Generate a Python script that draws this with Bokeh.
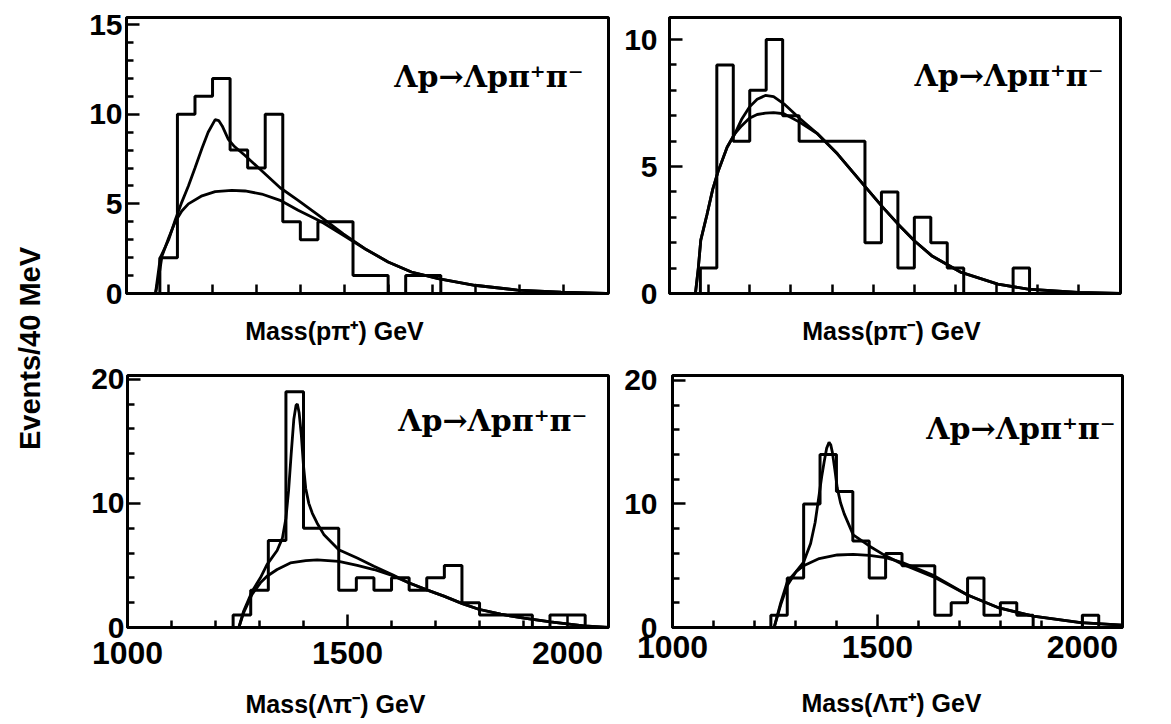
import numpy as np
from math import pi
from bokeh.plotting import figure
from bokeh.layouts import row, column
from bokeh.models import FixedTicker, Range1d, Label
from bokeh.embed import file_html
from bokeh.resources import INLINE

BIN_WIDTH = 40  # MeV per bin

# ---------------- Top-left: Mass(p pi+) ----------------
tl_start = 1080
tl_counts = [2, 10, 11, 12, 8, 7, 10, 4, 3, 4, 4, 1, 1, 0, 1, 1]
tl_fit_x = [1070, 1081, 1100, 1115, 1130, 1145, 1160, 1176, 1190, 1206, 1214, 1222, 1236, 1250,
            1274, 1312, 1354, 1395, 1448, 1498, 1547, 1600, 1653, 1714, 1797, 1895, 1994, 2096]
tl_fit_y = [0, 2.0, 3.0, 4.1, 5.1, 6.0, 7.0, 8.1, 9.0, 9.7, 9.65, 9.35, 8.6, 8.2,
            7.7, 6.85, 5.9, 5.2, 4.25, 3.33, 2.5, 1.76, 1.2, 0.83, 0.46, 0.19, 0.07, 0.0]
tl_ps_x = [1070, 1078, 1085, 1100, 1115, 1130, 1145, 1176, 1206, 1244, 1274, 1312, 1354, 1395,
           1448, 1498, 1547, 1600, 1653, 1714, 1797, 1895, 1994, 2096]
tl_ps_y = [0, 1.0, 2.1, 3.1, 4.0, 4.6, 5.0, 5.45, 5.68, 5.75, 5.72, 5.55, 5.2, 4.65,
           4.0, 3.25, 2.5, 1.76, 1.2, 0.83, 0.46, 0.19, 0.07, 0.0]

# ---------------- Top-right: Mass(p pi-) ----------------
tr_start = 1080
tr_counts = [1, 9, 6, 8, 10, 7, 6, 6, 6, 6, 2, 4, 1, 3, 2, 1, 0, 0, 0, 1]
tr_fit_x = [1068, 1075, 1081, 1096, 1110, 1123, 1145, 1164, 1180, 1199, 1218, 1238, 1258, 1283,
            1321, 1364, 1413, 1482, 1523, 1560, 1600, 1642, 1714, 1803, 1876, 1998, 2101]
tr_fit_y = [0, 1.0, 2.1, 3.1, 4.1, 4.8, 5.76, 6.3, 6.85, 7.34, 7.65, 7.8, 7.75, 7.47,
            6.9, 6.3, 5.5, 4.18, 3.4, 2.74, 2.08, 1.49, 0.83, 0.37, 0.17, 0.04, 0.0]
tr_ps_x = [1068, 1075, 1081, 1096, 1110, 1123, 1145, 1164, 1180, 1199, 1218, 1238, 1258, 1283,
           1321, 1364, 1413, 1482, 1523, 1560, 1600, 1642, 1714, 1803, 1876, 1998, 2101]
tr_ps_y = [0, 1.0, 2.1, 3.1, 4.1, 4.8, 5.76, 6.3, 6.6, 6.9, 7.05, 7.1, 7.12, 7.08,
           6.75, 6.3, 5.5, 4.18, 3.4, 2.74, 2.08, 1.49, 0.83, 0.37, 0.17, 0.04, 0.0]

# ---------------- Bottom-left: Mass(Lambda pi-) ----------------
bl_start = 1240
bl_counts = [1, 3, 7, 19, 8, 8, 3, 4, 3, 4, 3, 4, 5, 2, 1, 1, 1, 0, 1, 1]
bl_fit_x = [1253, 1264, 1283, 1302, 1317, 1340, 1352, 1360, 1366, 1372, 1378, 1383, 1386, 1390,
            1395, 1400, 1405, 1412, 1420, 1431, 1446, 1480, 1522, 1560, 1601, 1639, 1677, 1719,
            1761, 1798, 1848, 1901, 1961, 2037, 2093]
bl_fit_y = [0, 1.33, 2.9, 4.0, 5.07, 6.2, 7.2, 8.8, 11.0, 14.0, 16.8, 17.9, 18.0, 17.3,
            15.5, 13.0, 11.2, 10.0, 9.2, 8.4, 7.5, 6.27, 5.6, 4.93, 4.27, 3.6, 3.07, 2.53,
            1.92, 1.47, 1.07, 0.75, 0.45, 0.13, 0.0]
bl_ps_x = [1253, 1264, 1283, 1302, 1317, 1340, 1370, 1405, 1431, 1480, 1522, 1560, 1601, 1639,
           1677, 1719, 1761, 1798, 1848, 1901, 1961, 2037, 2093]
bl_ps_y = [0, 1.2, 2.67, 3.6, 4.13, 4.67, 5.2, 5.39, 5.44, 5.33, 5.0, 4.67, 4.2, 3.6,
           3.07, 2.53, 1.92, 1.47, 1.07, 0.75, 0.45, 0.13, 0.0]

# ---------------- Bottom-right: Mass(Lambda pi+) ----------------
br_start = 1240
br_counts = [1, 4, 10, 14, 11, 7, 4, 6, 5, 5, 1, 2, 4, 1, 2, 1, 0, 0, 0, 1]
br_fit_x = [1248, 1264, 1280, 1301, 1320, 1337, 1348, 1358, 1364, 1370, 1376, 1382, 1386, 1390,
            1396, 1402, 1410, 1419, 1441, 1480, 1520, 1561, 1638, 1720, 1797, 1880, 1996, 2098]
br_fit_y = [0, 2.0, 3.7, 4.5, 5.3, 6.8, 8.5, 10.8, 12.2, 13.4, 14.5, 15.0, 14.8, 14.2,
            12.8, 11.3, 10.1, 9.2, 7.5, 6.6, 5.8, 5.13, 4.08, 2.63, 1.58, 0.92, 0.4, 0.2]
br_ps_x = [1248, 1264, 1280, 1301, 1320, 1358, 1402, 1441, 1480, 1520, 1561, 1638, 1720, 1797,
           1880, 1996, 2098]
br_ps_y = [0, 1.84, 3.4, 4.5, 5.0, 5.58, 5.87, 5.92, 5.84, 5.66, 5.26, 4.2, 2.63, 1.58,
           0.92, 0.4, 0.2]

reaction = "Λp→Λpπ⁺π⁻"
xlabels = ["Mass(pπ⁺) GeV", "Mass(pπ⁻) GeV", "Mass(Λπ⁻) GeV", "Mass(Λπ⁺) GeV"]
ylabel = "Events/40 MeV"
x_major = [1000, 1500, 2000]
x_minor = [1100, 1200, 1300, 1400, 1600, 1700, 1800, 1900]
x_all = [1100, 1200, 1300, 1400, 1500, 1600, 1700, 1800, 1900, 2000]

SANS = "Liberation Sans"
XLABEL_SIZE = "25px"


def hist_steps(start, counts):
    edges = start + BIN_WIDTH * np.arange(len(counts) + 1)
    xs = np.concatenate([[edges[0]], edges[:-1], [edges[-1]]])
    ys = np.concatenate([[0], counts, [0]])
    return xs, ys


def panel(width, height, borders, xr, yr, ymajor, yminor, ystandoff, top_row,
          xstandoff, start, counts, fit, ps, ann):
    left, right, top, bottom = borders
    p = figure(width=width, height=height, x_range=Range1d(*xr), y_range=Range1d(*yr),
               output_backend="svg", toolbar_location=None,
               min_border_left=left, min_border_right=right,
               min_border_top=top, min_border_bottom=bottom)
    p.grid.visible = False
    p.outline_line_color = "black"
    p.outline_line_width = 3
    p.background_fill_color = "white"
    p.border_fill_color = "white"

    xa = p.xaxis[0]
    ya = p.yaxis[0]
    ya.ticker = FixedTicker(ticks=ymajor, minor_ticks=yminor)
    for ax in (xa, ya):
        ax.major_tick_in = 13
        ax.major_tick_out = 0
        ax.minor_tick_in = 7
        ax.minor_tick_out = 0
        ax.axis_line_width = 3
        ax.major_tick_line_width = 2.5
        ax.minor_tick_line_width = 2.5
        ax.major_label_text_font = SANS
        ax.major_label_text_font_style = "bold"
        ax.major_label_text_color = "black"
    ya.major_label_text_font_size = "30px"
    ya.major_label_standoff = ystandoff
    if top_row:
        # top panels: tick marks only, no tick labels
        xa.ticker = FixedTicker(ticks=[], minor_ticks=x_all)
        xa.minor_tick_in = 9
        xa.major_label_standoff = 0
    else:
        xa.ticker = FixedTicker(ticks=x_major, minor_ticks=x_minor)
        xa.major_label_text_font_size = "32px"
        xa.major_label_standoff = xstandoff

    hx, hy = hist_steps(start, counts)
    p.step(hx, hy, mode="after", line_color="black", line_width=3)
    p.line(ps[0], ps[1], line_color="black", line_width=2.8)
    p.line(fit[0], fit[1], line_color="black", line_width=2.8)

    p.add_layout(Label(x=ann[0], y=ann[1], text=reaction, text_align="right",
                       text_baseline="alphabetic", text_font="DejaVu Serif",
                       text_font_style="bold", text_font_size="30px", text_color="black"))
    return p


def title_strip(width, height, text, cx, cy):
    s = figure(width=width, height=height, x_range=Range1d(0, width), y_range=Range1d(0, height),
               output_backend="svg", toolbar_location=None, min_border=0,
               x_axis_location=None, y_axis_location=None)
    s.grid.visible = False
    s.outline_line_color = None
    s.add_layout(Label(x=cx, y=cy, text=text, text_align="center", text_baseline="middle",
                       text_font=SANS, text_font_style="bold", text_font_size=XLABEL_SIZE,
                       text_color="black"))
    return s


tl = panel(554, 310, (66, 6, 16, 17), (1004, 2102), (0, 15.4), [0, 5, 10, 15],
           [i for i in range(0, 16) if i % 5], 4, True, 0,
           tl_start, tl_counts, (tl_fit_x, tl_fit_y), (tl_ps_x, tl_ps_y), (2045, 12.1))
tr = panel(557, 310, (55, 51, 17, 17), (1005, 2101), (0, 10.87), [0, 5, 10],
           [i for i in range(0, 11) if i % 5], 12, True, 0,
           tr_start, tr_counts, (tr_fit_x, tr_fit_y), (tr_ps_x, tr_ps_y), (2060, 8.58))
tl_title = title_strip(554, 45, xlabels[0], 274, 25)
tr_title = title_strip(557, 45, xlabels[1], 277, 25)

bl = panel(554, 330, (67, 6, 18, 58), (1000, 2093), (0, 20.3), [0, 10, 20],
           [2, 4, 6, 8, 12, 14, 16, 18], 3, False, 14,
           bl_start, bl_counts, (bl_fit_x, bl_fit_y), (bl_ps_x, bl_ps_y), (2045, 16.7))
br = panel(557, 330, (58, 49, 20, 52), (1000, 2098), (0, 20.4), [0, 10, 20],
           [2, 4, 6, 8, 12, 14, 16, 18], 15, False, 8,
           br_start, br_counts, (br_fit_x, br_fit_y), (br_ps_x, br_ps_y), (2081, 16.1))
bl_title = title_strip(554, 39, xlabels[2], 275, 21)
br_title = title_strip(557, 39, xlabels[3], 277, 22)

lab = figure(width=60, height=724, x_range=Range1d(0, 60), y_range=Range1d(0, 724),
             output_backend="svg", toolbar_location=None, min_border=0,
             x_axis_location=None, y_axis_location=None)
lab.grid.visible = False
lab.outline_line_color = None
lab.add_layout(Label(x=29, y=376, text=ylabel, angle=pi / 2, text_align="center",
                     text_baseline="middle", text_font=SANS, text_font_style="bold",
                     text_font_size="29px", text_color="black"))

layout = row(lab, column(row(tl, tr), row(tl_title, tr_title),
                         row(bl, br), row(bl_title, br_title)))

open("out.html", "w").write(file_html(layout, INLINE))
